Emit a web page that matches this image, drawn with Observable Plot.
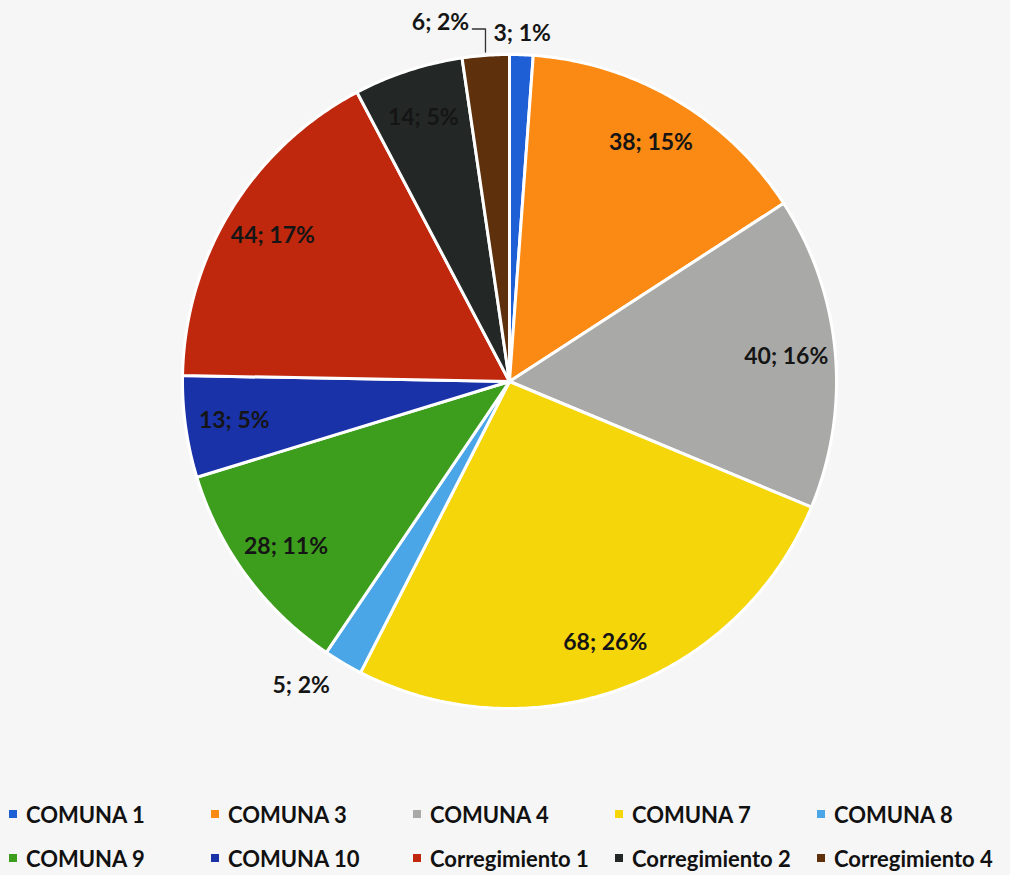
<!DOCTYPE html>
<html>
<head>
<meta charset="utf-8">
<script src="https://cdn.jsdelivr.net/npm/d3@7"></script>
<script src="https://cdn.jsdelivr.net/npm/@observablehq/plot@0.6"></script>
<style>
  html, body { margin: 0; padding: 0; background: #f6f6f6; }
  #chart { width: 1010px; height: 875px; overflow: hidden; font-family: Lato, "Open Sans", sans-serif; }
  #chart svg { display: block; }
  .legend { display: grid; grid-template-columns: repeat(5, 202px); grid-auto-rows: 44px; padding-left: 9px; }
  .item { display: flex; align-items: center; font-size: 22px; font-weight: 700; color: #111; white-space: nowrap; }
  .sw { width: 8px; height: 8px; margin-right: 9px; flex: none; }
</style>
</head>
<body>
<div id="chart"></div>
<script>
// ---- data ----
const categories = ["COMUNA 1", "COMUNA 3", "COMUNA 4", "COMUNA 7", "COMUNA 8",
                    "COMUNA 9", "COMUNA 10", "Corregimiento 1", "Corregimiento 2", "Corregimiento 4"];
const values   = [3, 38, 40, 68, 5, 28, 13, 44, 14, 6];
const percents = [1, 15, 16, 26, 2, 11, 5, 17, 5, 2];
const colors   = ["#1f5fd6", "#fb8a14", "#a9aaa8", "#f5d60a", "#4aa6e6",
                  "#3c9e1c", "#1a32a8", "#c0280e", "#232826", "#5e300c"];

// ---- layout from data ----
const rows = categories.map((name, i) => ({name, value: values[i], pct: percents[i]}));
const arcs = d3.pie().sort(null).value(d => d.value)(rows);
const pt = (a, r) => [r * Math.sin(a), r * Math.cos(a)]; // clockwise from 12 o'clock, y up

const slicePts = [];
for (const s of arcs) {
  const n = Math.max(2, Math.ceil((s.endAngle - s.startAngle) / (Math.PI / 360)));
  slicePts.push({name: s.data.name, x: 0, y: 0});
  for (let k = 0; k <= n; k++) {
    const a = s.startAngle + (s.endAngle - s.startAngle) * k / n;
    const [x, y] = pt(a, 1);
    slicePts.push({name: s.data.name, x, y});
  }
  slicePts.push({name: s.data.name, x: 0, y: 0});
}

const labels = [];
const leaders = [];
for (const s of arcs) {
  const mid = (s.startAngle + s.endAngle) / 2;
  const text = `${s.data.value}; ${s.data.pct}%`;
  if (s.data.pct >= 3) {
    const [x, y] = pt(mid, 0.85);
    labels.push({x, y, text, anchor: "middle"});
  } else if (Math.abs(Math.sin(mid)) < 0.3) {
    if (Math.sin(mid) >= 0) {
      const [x, y] = pt(mid, 1.065);
      labels.push({x, y, text, anchor: "middle"});
    } else {
      const [x, y] = pt(mid, 1.01);
      leaders.push({id: s.data.name, x, y}, {id: s.data.name, x, y: 1.078}, {id: s.data.name, x: x - 0.04, y: 1.078});
      labels.push({x: x - 0.05, y: 1.097, text, anchor: "end"});
    }
  } else {
    const [x, y] = pt(mid, 1.08);
    labels.push({x, y, text, anchor: Math.sin(mid) < 0 ? "end" : "start"});
  }
}

const textStyle = {x: "x", y: "y", text: "text", fontSize: 23, fontWeight: "bold", fill: "#151515", fontFamily: "Lato"};

const plot = Plot.plot({
  width: 1010,
  height: 792,
  margin: 0,
  style: {background: "transparent", overflow: "visible"},
  x: {domain: [-1, 1], range: [182, 836], axis: null},
  y: {domain: [-1, 1], range: [708, 54], axis: null},
  color: {domain: categories, range: colors},
  marks: [
    Plot.line(slicePts, {x: "x", y: "y", z: "name", fill: "name", stroke: "#ffffff", strokeWidth: 3, strokeLinejoin: "round"}),
    Plot.line(leaders, {x: "x", y: "y", z: "id", stroke: "#333", strokeWidth: 1.3}),
    Plot.text(labels.filter(d => d.anchor === "middle"), {...textStyle, textAnchor: "middle"}),
    Plot.text(labels.filter(d => d.anchor === "end"), {...textStyle, textAnchor: "end"}),
    Plot.text(labels.filter(d => d.anchor === "start"), {...textStyle, textAnchor: "start"})
  ]
});

const root = document.getElementById("chart");
root.appendChild(plot);

const color = plot.scale("color");
const legend = document.createElement("div");
legend.className = "legend";
for (const name of categories) {
  const item = document.createElement("div");
  item.className = "item";
  const sw = document.createElement("span");
  sw.className = "sw";
  sw.style.background = color.apply(name);
  const label = document.createElement("span");
  label.textContent = name;
  item.appendChild(sw);
  item.appendChild(label);
  legend.appendChild(item);
}
root.appendChild(legend);
</script>
</body>
</html>
